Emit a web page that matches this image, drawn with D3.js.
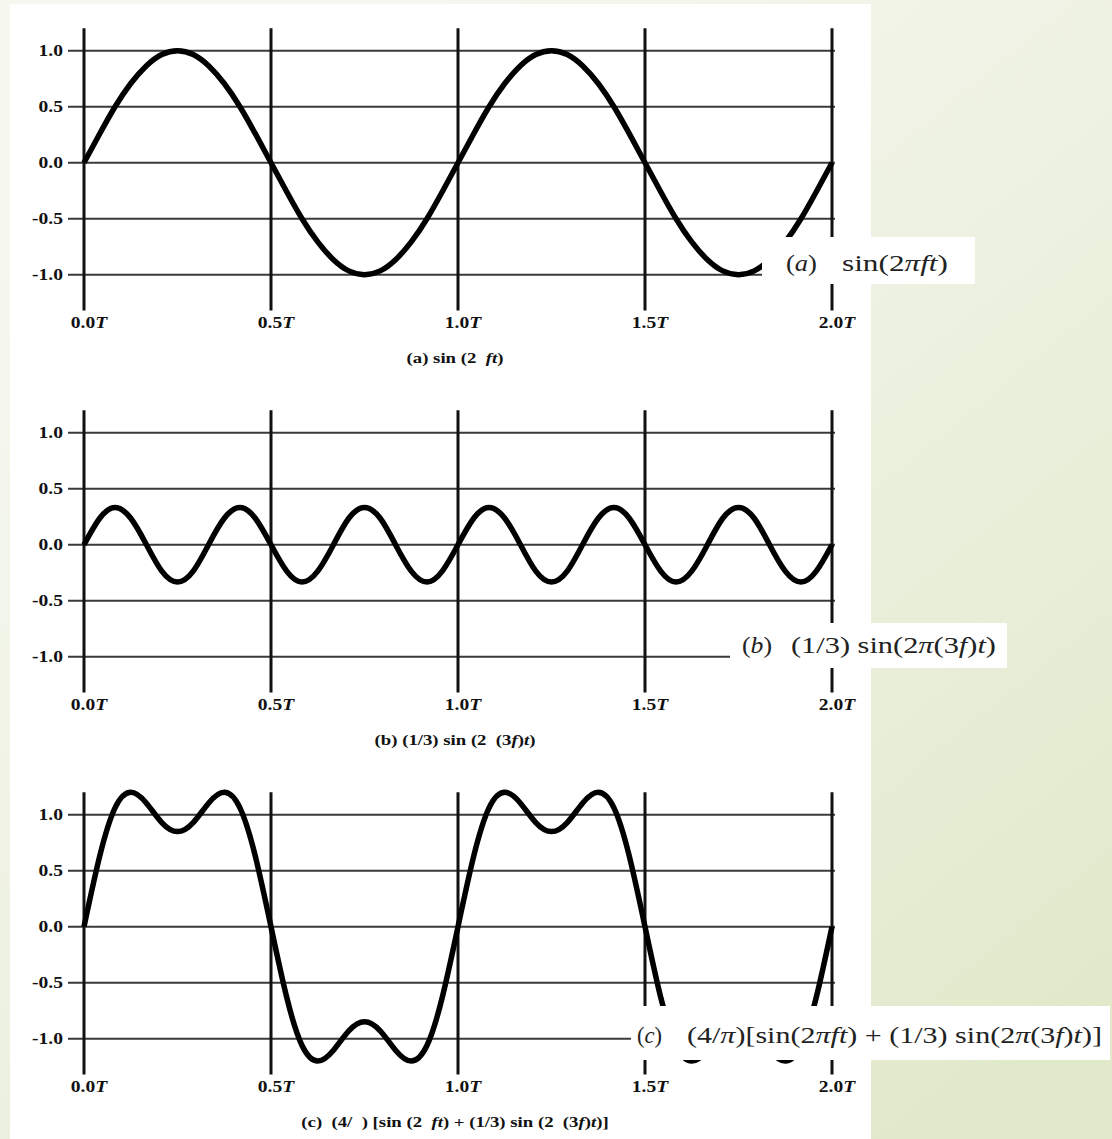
<!DOCTYPE html>
<html>
<head>
<meta charset="utf-8">
<script src="https://cdn.jsdelivr.net/npm/d3@7"></script>
<style>
  html, body { margin: 0; padding: 0; background: #fff; }
  svg { display: block; }
</style>
</head>
<body>
<svg id="chart" width="1112" height="1139"></svg>
<script>
// ---------------- DATA ----------------
// sample times, in units of T
const timeT = [0, .042, .083, .125, .167, .208, .25, .292, .333, .375, .417, .458, .5,
  .542, .583, .625, .667, .708, .75, .792, .833, .875, .917, .958, 1,
  1.042, 1.083, 1.125, 1.167, 1.208, 1.25, 1.292, 1.333, 1.375, 1.417, 1.458, 1.5,
  1.542, 1.583, 1.625, 1.667, 1.708, 1.75, 1.792, 1.833, 1.875, 1.917, 1.958, 2];

// (a) sin(2πft)
const seriesA = [0, .259, .5, .707, .866, .966, 1, .966, .866, .707, .5, .259, 0,
  -.259, -.5, -.707, -.866, -.966, -1, -.966, -.866, -.707, -.5, -.259, 0,
  .259, .5, .707, .866, .966, 1, .966, .866, .707, .5, .259, 0,
  -.259, -.5, -.707, -.866, -.966, -1, -.966, -.866, -.707, -.5, -.259, 0];

// (b) (1/3) sin(2π(3f)t)
const seriesB = [0, .236, .333, .236, 0, -.236, -.333, -.236,
  0, .236, .333, .236, 0, -.236, -.333, -.236,
  0, .236, .333, .236, 0, -.236, -.333, -.236,
  0, .236, .333, .236, 0, -.236, -.333, -.236,
  0, .236, .333, .236, 0, -.236, -.333, -.236,
  0, .236, .333, .236, 0, -.236, -.333, -.236, 0];

// (c) (4/π)[sin(2πft) + (1/3) sin(2π(3f)t)]
const seriesC = [0, .630, 1.061, 1.200, 1.103, .930, .849, .930, 1.103, 1.200, 1.061, .630, 0,
  -.630, -1.061, -1.200, -1.103, -.930, -.849, -.930, -1.103, -1.200, -1.061, -.630, 0,
  .630, 1.061, 1.200, 1.103, .930, .849, .930, 1.103, 1.200, 1.061, .630, 0,
  -.630, -1.061, -1.200, -1.103, -.930, -.849, -.930, -1.103, -1.200, -1.061, -.630, 0];

const yTickValues = [1.0, 0.5, 0.0, -0.5, -1.0];
const yTickLabels = ["1.0", "0.5", "0.0", "-0.5", "-1.0"];
const xTickValues = [0, 0.5, 1.0, 1.5, 2.0];
const xTickLabels = ["0.0", "0.5", "1.0", "1.5", "2.0"];

const panelSeries = [seriesA, seriesB, seriesC];
const captionParts = [
  [["(a) sin (2  ", false], ["ft", true], [")", false]],
  [["(b) (1/3) sin (2  (3", false], ["f", true], [")", false], ["t", true], [")", false]],
  [["(c)  (4/  ) [sin (2  ", false], ["ft", true], [") + (1/3) sin (2  (3", false], ["f", true], [")", false], ["t", true], [")]", false]]
];
const tagLabels = ["(a)", "(b)", "(c)"];
const formulaParts = [
  [["sin(2", false], ["π", true], ["ft", true], [")", false]],
  [["(1/3) sin(2", false], ["π", true], ["(3", false], ["f", true], [")", false], ["t", true], [")", false]],
  [["(4/", false], ["π", true], [")[sin(2", false], ["π", true], ["ft", true], [") + (1/3) sin(2", false], ["π", true], ["(3", false], ["f", true], [")", false], ["t", true], [")]", false]]
];

// ---------------- LAYOUT ----------------
const W = 1112, H = 1139;
const svg = d3.select("#chart");
const defs = svg.append("defs");
const grad = defs.append("linearGradient").attr("id", "bg")
  .attr("gradientUnits", "userSpaceOnUse")
  .attr("x1", 300).attr("y1", 0).attr("x2", 1112).attr("y2", 1000);
grad.append("stop").attr("offset", "0%").attr("stop-color", "#f6f8f0");
grad.append("stop").attr("offset", "45%").attr("stop-color", "#eef2e2");
grad.append("stop").attr("offset", "100%").attr("stop-color", "#e1e9cb");
svg.append("rect").attr("width", W).attr("height", H).attr("fill", "url(#bg)");
svg.append("rect").attr("x", 10).attr("y", 4).attr("width", 861).attr("height", H - 4).attr("fill", "#fff");

const panelZero = [162.7, 544.7, 926.7];
const unit = 112;
const x = d3.scaleLinear().domain([0, 2]).range([84, 832]);

// label box geometry per panel
const boxes = [
  {x: 762, y: 237, w: 213, h: 47, tagX: 786, tagW: 31, fX: 842, fW: 106, base: 271},
  {x: 730, y: 623, w: 277, h: 45, tagX: 742, tagW: 30, fX: 791, fW: 205, base: 653},
  {x: 631, y: 1006, w: 479, h: 54, tagX: 637, tagW: 25, fX: 687, fW: 415, base: 1043}
];

const serif = "Liberation Serif, Times New Roman, serif";

panelSeries.forEach((series, i) => {
  const z = panelZero[i];
  const y = d3.scaleLinear().domain([-1, 1]).range([z + unit, z - unit]);
  const g = svg.append("g");

  // horizontal grid lines (y ticks)
  g.selectAll("line.h").data(yTickValues).enter().append("line")
    .attr("x1", 68).attr("x2", 835)
    .attr("y1", d => y(d)).attr("y2", d => y(d))
    .attr("stroke", "#3a3a3a").attr("stroke-width", 2);

  // vertical lines (x ticks)
  g.selectAll("line.v").data(xTickValues).enter().append("line")
    .attr("x1", d => x(d)).attr("x2", d => x(d))
    .attr("y1", y(1.2)).attr("y2", y(-1.32))
    .attr("stroke", "#111").attr("stroke-width", 3);

  // y tick labels
  g.selectAll("text.yl").data(yTickValues).enter().append("text")
    .attr("transform", d => `translate(63,${y(d) + 5.5}) scale(1.15,1)`)
    .attr("text-anchor", "end")
    .attr("font-family", serif).attr("font-weight", "bold").attr("font-size", 17)
    .attr("fill", "#111")
    .text((d, j) => yTickLabels[j]);

  // x tick labels
  const xl = g.selectAll("text.xl").data(xTickValues).enter().append("text")
    .attr("transform", d => `translate(${x(d) + 5},${z + 165.5}) scale(1.15,1)`)
    .attr("text-anchor", "middle")
    .attr("font-family", serif).attr("font-weight", "bold").attr("font-size", 17)
    .attr("fill", "#111");
  xl.append("tspan").text((d, j) => xTickLabels[j]);
  xl.append("tspan").attr("font-style", "italic").text("T");

  // curve
  const line = d3.line()
    .x((d, j) => x(timeT[j]))
    .y(d => y(d))
    .curve(d3.curveNatural);
  g.append("path").datum(series)
    .attr("d", line)
    .attr("fill", "none").attr("stroke", "#000").attr("stroke-width", 5.5)
    .attr("stroke-linejoin", "round");

  // caption
  const cap = g.append("text")
    .attr("transform", `translate(455,${z + 200.5}) scale(1.25,1)`)
    .attr("text-anchor", "middle")
    .attr("font-family", serif).attr("font-weight", "bold").attr("font-size", 15)
    .attr("fill", "#111")
    .style("white-space", "pre");
  captionParts[i].forEach(p => {
    cap.append("tspan").attr("font-style", p[1] ? "italic" : "normal").text(p[0]);
  });

  // label box
  const b = boxes[i];
  g.append("rect").attr("x", b.x).attr("y", b.y).attr("width", b.w).attr("height", b.h).attr("fill", "#fff");
  const tag = g.append("text").attr("x", b.tagX).attr("y", b.base)
    .attr("font-family", serif).attr("font-size", 23).attr("fill", "#222")
    .attr("textLength", b.tagW).attr("lengthAdjust", "spacingAndGlyphs");
  tag.append("tspan").text("(");
  tag.append("tspan").attr("font-style", "italic").text(tagLabels[i].slice(1, 2));
  tag.append("tspan").text(")");
  const f = g.append("text").attr("x", b.fX).attr("y", b.base)
    .attr("font-family", serif).attr("font-size", 23).attr("fill", "#222")
    .attr("textLength", b.fW).attr("lengthAdjust", "spacingAndGlyphs")
    .style("white-space", "pre");
  formulaParts[i].forEach(p => {
    f.append("tspan").attr("font-style", p[1] ? "italic" : "normal").text(p[0]);
  });
});
</script>
</body>
</html>
